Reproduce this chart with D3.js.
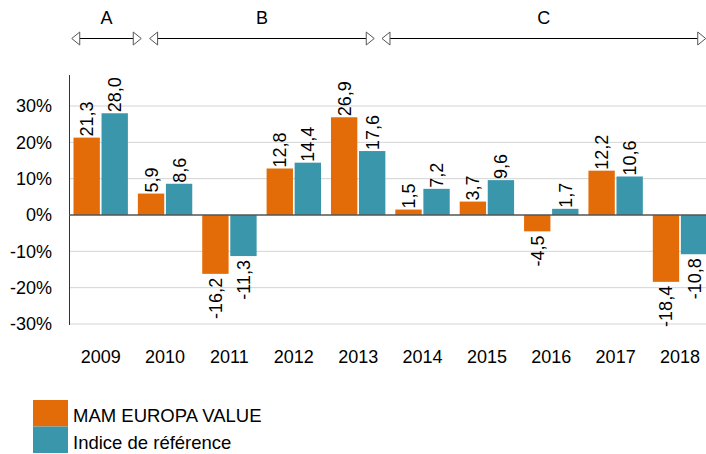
<!DOCTYPE html>
<html>
<head>
<meta charset="utf-8">
<script src="https://cdn.jsdelivr.net/npm/d3@7"></script>
<style>
  body { margin: 0; background: #fff; }
  text { font-family: Arial, "Liberation Sans", sans-serif; fill: #000; }
</style>
</head>
<body>
<script>
var years = ['2009', '2010', '2011', '2012', '2013', '2014', '2015', '2016', '2017', '2018'];
var fund = [21.3, 5.9, -16.2, 12.8, 26.9, 1.5, 3.7, -4.5, 12.2, -18.4];
var benchmark = [28.0, 8.6, -11.3, 14.4, 17.6, 7.2, 9.6, 1.7, 10.6, -10.8];
var seriesNames = ['MAM EUROPA VALUE', 'Indice de référence'];
var yTicks = [-30, -20, -10, 0, 10, 20, 30];
var periods = ['A', 'B', 'C'];
var periodFrom = [2008.55, 2009.76, 2013.37];
var periodTo = [2009.63, 2013.25, 2018.4];

var width = 706,
    height = 454,
    colors = ['#e36c09', '#3a96ab'];

var x = d3.scaleBand().domain(years).range([69, 711.7]).paddingInner(0.155).paddingOuter(0.07);
var xs = d3.scaleBand().domain([0, 1]).range([0, x.bandwidth()]).paddingInner(0.06);
var y = d3.scaleLinear().domain([-30, 30]).range([324, 106]);
var xYear = d3.scaleLinear().domain([2009, 2010]).range([x('2009') + x.bandwidth() / 2, x('2010') + x.bandwidth() / 2]);

var svg = d3.select('body').append('svg')
    .attr('width', width)
    .attr('height', height);

// gridlines
svg.append('g')
    .selectAll('line')
    .data(yTicks.filter(function(d) { return d != 0; }))
    .enter().append('line')
    .attr('x1', 69).attr('x2', width)
    .attr('y1', function(d) { return y(d); })
    .attr('y2', function(d) { return y(d); })
    .attr('stroke', '#d4d4d4')
    .attr('stroke-width', 1);

// y axis
var axisY = svg.append('g')
    .attr('transform', 'translate(69,0)')
    .call(d3.axisLeft(y).tickValues(yTicks).tickSize(0).tickPadding(17).tickFormat(function(d) { return d + '%'; }));
axisY.select('.domain').remove();
axisY.selectAll('text').style('font-size', '18px').style('font-family', 'Arial, "Liberation Sans", sans-serif');
svg.append('line')
    .attr('x1', 69.5).attr('x2', 69.5)
    .attr('y1', 75).attr('y2', 325)
    .attr('stroke', '#333');

var data = years.map(function(yr, i) { return {year: yr, values: [fund[i], benchmark[i]]}; });

var groups = svg.append('g').selectAll('g')
    .data(data)
    .enter().append('g')
    .attr('transform', function(d) { return 'translate(' + x(d.year) + ',0)'; });

groups.selectAll('rect')
    .data(function(d) { return d.values; })
    .enter().append('rect')
    .attr('x', function(d, i) { return xs(i); })
    .attr('width', xs.bandwidth())
    .attr('y', function(d) { return y(Math.max(0, d)); })
    .attr('height', function(d) { return Math.abs(y(d) - y(0)); })
    .attr('fill', function(d, i) { return colors[i]; });

groups.selectAll('text')
    .data(function(d) { return d.values; })
    .enter().append('text')
    .attr('transform', function(d, i) {
        var cx = xs(i) + xs.bandwidth() / 2;
        var cy = d >= 0 ? y(d) - 1 : y(d) + 4;
        return 'translate(' + cx + ',' + cy + ') rotate(-90)';
    })
    .attr('dy', '0.36em')
    .attr('text-anchor', function(d) { return d >= 0 ? 'start' : 'end'; })
    .style('font-size', '18px')
    .text(function(d) { return d.toFixed(1).replace('.', ','); });

// zero line
svg.append('line')
    .attr('x1', 69).attr('x2', width)
    .attr('y1', y(0)).attr('y2', y(0))
    .attr('stroke', '#555')
    .attr('stroke-width', 1.5);

// x labels
svg.append('g').selectAll('text')
    .data(years)
    .enter().append('text')
    .attr('x', function(d) { return x(d) + x.bandwidth() / 2; })
    .attr('y', 363)
    .attr('text-anchor', 'middle')
    .style('font-size', '18px')
    .text(function(d) { return d; });

// period arrows
var head = 'M0,0 L8,-6.5 L8,6.5 Z';
var pg = svg.append('g').selectAll('g')
    .data(periods)
    .enter().append('g');

pg.append('line')
    .attr('x1', function(d, i) { return xYear(periodFrom[i]) + 8; })
    .attr('x2', function(d, i) { return xYear(periodTo[i]) - 8; })
    .attr('y1', 38.5).attr('y2', 38.5)
    .attr('stroke', '#000')
    .attr('stroke-width', 1.2);
pg.append('path')
    .attr('d', head)
    .attr('transform', function(d, i) { return 'translate(' + xYear(periodFrom[i]) + ',38.5)'; })
    .attr('fill', '#fff').attr('stroke', '#555');
pg.append('path')
    .attr('d', head)
    .attr('transform', function(d, i) { return 'translate(' + xYear(periodTo[i]) + ',38.5) rotate(180)'; })
    .attr('fill', '#fff').attr('stroke', '#555');
pg.append('text')
    .attr('x', function(d, i) { return (xYear(periodFrom[i]) + xYear(periodTo[i])) / 2; })
    .attr('y', 24)
    .attr('text-anchor', 'middle')
    .style('font-size', '18px')
    .text(function(d) { return d; });

// legend
var legend = svg.append('g').selectAll('g')
    .data(seriesNames)
    .enter().append('g')
    .attr('transform', function(d, i) { return 'translate(33,' + (400 + i * 26.5) + ')'; });
legend.append('rect')
    .attr('width', 35).attr('height', 26.5)
    .attr('fill', function(d, i) { return colors[i]; });
legend.append('text')
    .attr('x', 40).attr('y', 22)
    .style('font-size', '18.5px')
    .text(function(d) { return d; });
</script>
</body>
</html>
